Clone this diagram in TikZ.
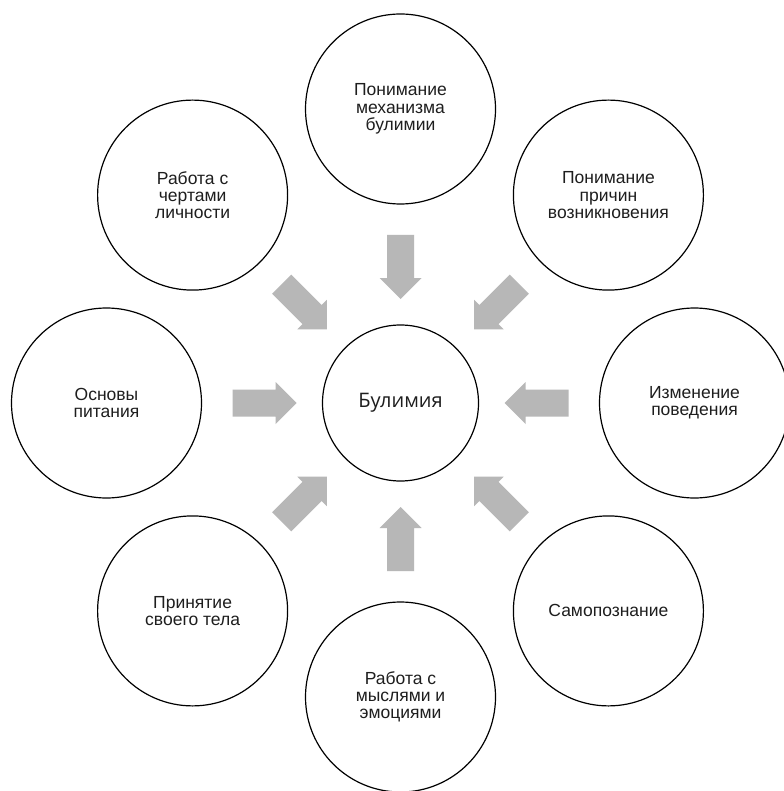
\documentclass[tikz,border=0pt]{standalone}
\usepackage{fontspec}
\setmainfont{Liberation Sans}
\newfontfamily\bulfont{Open Sans}
\usetikzlibrary{calc}
\definecolor{arrowgray}{RGB}{183,183,183}
\definecolor{txt}{RGB}{30,30,30}
\newcommand\bigarrow[1]{%
  \fill[arrowgray]
    ($(C)!168pt!(#1)!13.5pt!90:(#1)$) --
    ($(C)!125pt!(#1)!13.5pt!90:(#1)$) --
    ($(C)!125pt!(#1)!21pt!90:(#1)$) --
    ($(C)!104pt!(#1)$) --
    ($(C)!125pt!(#1)!21pt!-90:(#1)$) --
    ($(C)!125pt!(#1)!13.5pt!-90:(#1)$) --
    ($(C)!168pt!(#1)!13.5pt!-90:(#1)$) -- cycle;}
\begin{document}
\begin{tikzpicture}[x=1pt,y=-1pt,
  outer/.style={circle,draw=black,line width=1.2pt,minimum size=190pt,inner sep=0pt,
    align=center,text=txt,font=\fontsize{17.5}{17.3}\selectfont},
  hub/.style={circle,draw=black,line width=1.2pt,minimum size=156pt,inner sep=0pt,
    text=txt,font=\bulfont\fontsize{20}{22}\selectfont}]
\useasboundingbox[fill=white] (0,0) rectangle (783,791);
\node[hub] (C) at (400.5,403) {Булимия};
\node[outer] (T)  at (400.5,109)   {Понимание\\механизма\\булимии};
\node[outer] (TR) at (608.4,195.1) {Понимание\\причин\\возникновения};
\node[outer] (R)  at (694.5,403)   {Изменение\\поведения};
\node[outer] (BR) at (608.4,610.9) {Самопознание};
\node[outer] (B)  at (400.5,697)   {Работа с\\мыслями и\\эмоциями};
\node[outer] (BL) at (192.6,610.9) {Принятие\\своего тела};
\node[outer] (L)  at (106.5,403)   {Основы\\питания};
\node[outer] (TL) at (192.6,195.1) {Работа с\\чертами\\личности};
\foreach \n in {T,TR,R,BR,B,BL,L,TL} {\bigarrow{\n}}
\end{tikzpicture}
\end{document}
